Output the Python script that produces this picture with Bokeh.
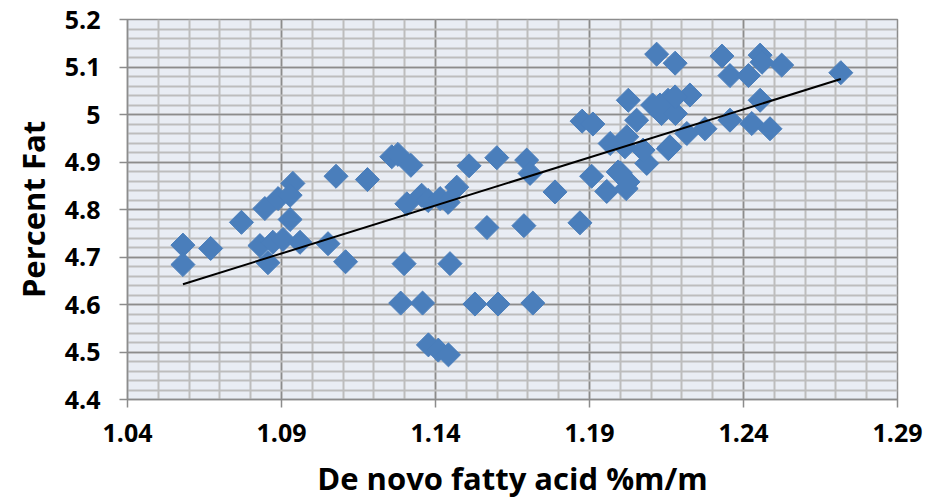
import numpy as np
from bokeh.plotting import figure
from bokeh.models import FixedTicker, ColumnDataSource
from bokeh.embed import file_html
from bokeh.resources import INLINE

# ---- data ----
denovo = [
    1.058, 1.058, 1.067, 1.077, 1.083, 1.0856, 1.0846, 1.0889, 1.0937, 1.0928,
    1.0928, 1.0872, 1.0905, 1.0960, 1.1051, 1.1077, 1.1108, 1.1179, 1.1258, 1.1278,
    1.1320, 1.1307, 1.1355, 1.1376, 1.1415, 1.1441, 1.1469, 1.1509, 1.1599, 1.1696,
    1.1707, 1.1567, 1.1687, 1.1298, 1.1447, 1.1287, 1.1358, 1.1528, 1.1603, 1.1716,
    1.1377, 1.1409, 1.1442, 1.1788, 1.1869, 1.1907, 1.1956, 1.2000, 1.2019, 1.2086,
    1.2156, 1.1876, 1.1911, 1.2026, 1.2105, 1.2155, 1.2226, 1.2134, 1.2179, 1.2053,
    1.1967, 1.2015, 1.2074, 1.2161, 1.2216, 1.2275, 1.2021, 1.1993, 1.2025, 1.2129,
    1.2178, 1.2118, 1.2178, 1.2330, 1.2356, 1.2416, 1.2454, 1.2460, 1.2524, 1.2716,
    1.2454, 1.2356, 1.2427, 1.2486,
]
fat = [
    4.725, 4.684, 4.718, 4.773, 4.724, 4.688, 4.802, 4.823, 4.855, 4.830,
    4.779, 4.731, 4.737, 4.731, 4.728, 4.870, 4.690, 4.863, 4.911, 4.916,
    4.893, 4.812, 4.830, 4.819, 4.823, 4.815, 4.847, 4.892, 4.909, 4.904,
    4.876, 4.762, 4.766, 4.686, 4.686, 4.603, 4.603, 4.601, 4.601, 4.603,
    4.515, 4.504, 4.494, 4.837, 4.772, 4.870, 4.838, 4.877, 4.844, 4.897,
    4.928, 4.986, 4.980, 5.030, 5.020, 5.030, 5.041, 5.002, 5.002, 4.988,
    4.939, 4.932, 4.925, 4.932, 4.960, 4.970, 4.953, 4.879, 4.858, 5.020,
    5.037, 5.127, 5.108, 5.123, 5.082, 5.082, 5.125, 5.110, 5.104, 5.088,
    5.030, 4.988, 4.981, 4.970,
]
x_ticks = [1.04, 1.09, 1.14, 1.19, 1.24, 1.29]
x_tick_labels = ["1.04", "1.09", "1.14", "1.19", "1.24", "1.29"]
y_ticks = [4.4, 4.5, 4.6, 4.7, 4.8, 4.9, 5.0, 5.1, 5.2]
y_tick_labels = ["4.4", "4.5", "4.6", "4.7", "4.8", "4.9", "5", "5.1", "5.2"]
x_minor = [round(1.04 + 0.01 * i, 2) for i in range(26)]
y_minor = [round(4.4 + 0.02 * i, 2) for i in range(41)]
x_title = "De novo fatty acid %m/m"
y_title = "Percent Fat"

# linear trend line fitted to the data
xa = np.array(denovo)
ya = np.array(fat)
slope, intercept = np.polyfit(xa, ya, 1)
tx = np.array([xa.min(), xa.max()])
ty = slope * tx + intercept

FONT = "Open Sans"
p = figure(
    frame_width=770, frame_height=380,
    x_range=(1.04, 1.29), y_range=(4.4, 5.2),
    output_backend="svg", toolbar_location=None,
    min_border_left=127, min_border_right=28, min_border_top=19, min_border_bottom=60,
    background_fill_color="#E9EDF4", border_fill_color="white",
)
p.outline_line_color = "#8C8C8C"
p.outline_line_width = 1.5

for ax, ticks, labels, minor in ((p.xaxis[0], x_ticks, x_tick_labels, x_minor),
                                 (p.yaxis[0], y_ticks, y_tick_labels, y_minor)):
    ax.ticker = FixedTicker(ticks=ticks, minor_ticks=minor)
    ax.major_label_overrides = {t: l for t, l in zip(ticks, labels)}
    ax.axis_line_color = "#8C8C8C"
    ax.axis_line_width = 1.5
    ax.major_tick_line_color = "#8C8C8C"
    ax.major_tick_line_width = 1.5
    ax.major_tick_in = 0
    ax.major_tick_out = 8
    ax.minor_tick_in = 0
    ax.minor_tick_out = 0
    ax.major_label_text_font = FONT
    ax.major_label_text_font_style = "bold"
    ax.major_label_text_font_size = "25px"
    ax.major_label_text_color = "black"
    ax.axis_label_text_font = FONT
    ax.axis_label_text_font_style = "bold"
    ax.axis_label_text_font_size = "31px"
    ax.axis_label_text_color = "black"

p.xaxis.axis_label = x_title
p.yaxis.axis_label = y_title
p.xaxis.major_label_standoff = 16
p.xaxis.axis_label_standoff = 12
p.yaxis.major_label_standoff = 19
p.yaxis.axis_label_standoff = 8

for g in (p.xgrid[0], p.ygrid[0]):
    g.grid_line_color = "#8C8C8C"
    g.grid_line_width = 1.5
    g.minor_grid_line_color = "#BDBDBD"
    g.minor_grid_line_width = 2
p.xgrid.ticker = p.xaxis[0].ticker
p.ygrid.ticker = p.yaxis[0].ticker

src = ColumnDataSource(dict(x=denovo, y=fat))
p.scatter("x", "y", source=src, marker="square", angle=np.pi / 4, size=17,
          fill_color="#4A7EBB", line_color="#4A7EBB")
p.line(tx, ty, line_color="black", line_width=2)

open("out.html", "w").write(file_html(p, INLINE))
